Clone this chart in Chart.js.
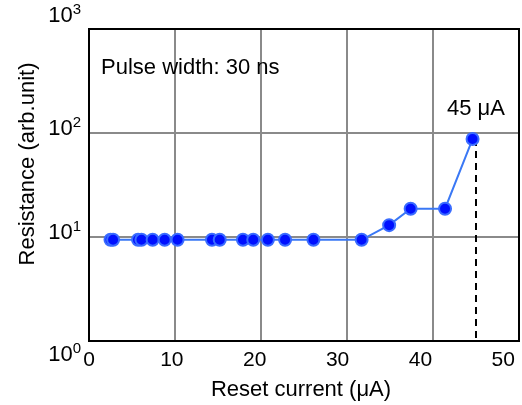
<!DOCTYPE html>
<html>
<head>
<meta charset="utf-8">
<script src="https://cdn.jsdelivr.net/npm/chart.js@4/dist/chart.umd.min.js"></script>
<style>
  html, body { margin: 0; padding: 0; background: #fff; }
  #wrap { width: 522px; height: 405px; }
</style>
</head>
<body>
<div id="wrap"><canvas id="resChart"></canvas></div>
<script>
// reset current (uA) and resistance (arb. unit)
const currents = [2.5, 2.8, 5.7, 6.1, 7.4, 8.8, 10.3, 14.3, 15.2, 17.9, 19.1, 20.8, 22.8, 26.1, 31.7, 34.9, 37.4, 41.4, 44.6];
const resistance = [9.4, 9.4, 9.4, 9.4, 9.4, 9.4, 9.4, 9.4, 9.4, 9.4, 9.4, 9.4, 9.4, 9.4, 9.4, 13.0, 18.7, 18.7, 87.5];
const xTicks = [0, 10, 20, 30, 40, 50];
const yDecades = [0, 1, 2, 3];
const markerX = 45;
const markerLabel = '45 μA';
const noteText = 'Pulse width: 30 ns';

const FONT = "'Liberation Sans', Arial, sans-serif";

const textPlugin = {
  id: 'textPlugin',
  beforeDatasetsDraw(chart) {
    const { ctx, chartArea: a } = chart;
    ctx.save();
    ctx.strokeStyle = '#000';
    ctx.lineWidth = 2;
    ctx.strokeRect(a.left, a.top, a.right - a.left, a.bottom - a.top);
    ctx.restore();
  },
  afterDraw(chart) {
    const { ctx, chartArea: a } = chart;
    const x = chart.scales.x, y = chart.scales.y, xl = chart.scales.xl;
    ctx.save();
    ctx.fillStyle = '#000';

    // y tick labels 10^n
    yDecades.forEach((d, i) => {
      let py = y.getPixelForValue(Math.pow(10, d)) - 4;
      if (i === 0) py += 18;
      if (i === yDecades.length - 1) py -= 9;
      ctx.textAlign = 'right';
      ctx.textBaseline = 'middle';
      ctx.font = '15px ' + FONT;
      const sw = ctx.measureText(String(d)).width;
      ctx.fillText(String(d), 81, py - 6);
      ctx.font = '22px ' + FONT;
      ctx.fillText('10', 81 - sw, py);
    });

    // x tick labels
    ctx.font = '21px ' + FONT;
    ctx.textAlign = 'center';
    ctx.textBaseline = 'middle';
    xTicks.forEach(v => {
      ctx.fillText(String(v), xl.getPixelForValue(v), a.bottom + 19);
    });

    // axis titles
    ctx.font = '22px ' + FONT;
    ctx.fillText('Reset current (μA)', 301, a.bottom + 49);
    ctx.save();
    ctx.translate(28, 164);
    ctx.rotate(-Math.PI / 2);
    ctx.fillText('Resistance (arb.unit)', 0, 0);
    ctx.restore();

    // annotations
    ctx.textAlign = 'left';
    ctx.fillText(noteText, a.left + 12, 68);
    ctx.textAlign = 'center';
    ctx.fillText(markerLabel, x.getPixelForValue(markerX), y.getPixelForValue(100) - 24);
    ctx.restore();
  }
};

new Chart(document.getElementById('resChart').getContext('2d'), {
  type: 'line',
  data: {
    datasets: [{
      data: currents.map((c, i) => ({ x: c, y: resistance[i] })),
      borderColor: '#3a78f5',
      borderWidth: 2,
      backgroundColor: '#0010ff',
      pointBorderColor: '#3a6cff',
      pointBorderWidth: 2,
      pointRadius: 6,
      tension: 0
    }, {
      data: [{ x: markerX, y: resistance[resistance.length - 1] }, { x: markerX, y: 1 }],
      borderColor: '#000',
      borderWidth: 2,
      borderDash: [7, 5],
      pointRadius: 0,
      tension: 0
    }]
  },
  options: {
    responsive: true,
    maintainAspectRatio: false,
    animation: false,
    layout: { autoPadding: false, padding: { left: 89, right: 3, top: 29, bottom: 64 } },
    plugins: { legend: { display: false }, tooltip: { enabled: false } },
    scales: {
      x: {
        type: 'linear', min: 0, max: 50,
        ticks: { display: false, stepSize: 10 },
        grid: { color: '#8a8a8a', lineWidth: 2, drawTicks: false },
        border: { display: false }
      },
      xl: {
        type: 'linear', min: 0, max: 51.9, position: 'bottom',
        ticks: { display: false },
        grid: { display: false, drawTicks: false },
        border: { display: false }
      },
      y: {
        type: 'logarithmic', min: 1, max: 1000,
        afterBuildTicks: s => { s.ticks = yDecades.map(d => ({ value: Math.pow(10, d) })); },
        ticks: { display: false },
        grid: { color: '#8a8a8a', lineWidth: 2, drawTicks: false },
        border: { display: false }
      }
    }
  },
  plugins: [textPlugin]
});
</script>
</body>
</html>
